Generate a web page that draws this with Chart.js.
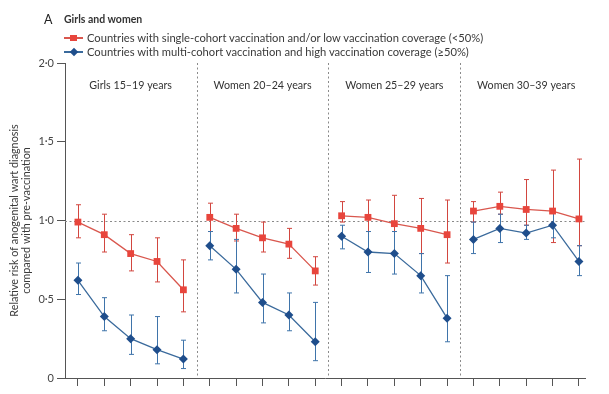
<!DOCTYPE html>
<html>
<head>
<meta charset="utf-8">
<script src="https://cdn.jsdelivr.net/npm/chart.js@4.4.1/dist/chart.umd.min.js"></script>
<style>
  body { margin: 0; background: #fff; font-family: Lato, sans-serif; color: #3a3a3a; }
  #wrap { position: relative; width: 609px; height: 394px; }
  #chart { position: absolute; left: 0; top: 0; }
  .head { position: absolute; white-space: nowrap; }
  .sym { position: absolute; width: 19px; height: 10px; }
  .sym .ln { position: absolute; left: 0; top: 4px; width: 19px; height: 1.5px; }
  .sym .mk { position: absolute; left: 6px; top: 1.5px; width: 6.5px; height: 6.5px; }
</style>
</head>
<body>
<div id="wrap">
  <canvas id="chart" width="609" height="394"></canvas>
  <div class="head" style="left:44px; top:12px; font-size:12.5px; color:#222;">A</div>
  <div class="head" style="left:64px; top:13px; font-size:10.5px; font-weight:bold; color:#333;">Girls and women</div>
  <div class="sym" style="left:64px; top:33px;"><div class="ln" style="background:#d9574e"></div><div class="mk" style="background:#e8453c"></div></div>
  <div class="head" id="leg1" style="left:87px; top:31px; font-size:11.2px;"></div>
  <div class="sym" style="left:64px; top:47px;"><div class="ln" style="background:#3a6a9c"></div><div class="mk" style="background:#1f4e8c; transform:rotate(45deg); width:6px; height:6px; left:6.5px; top:2px;"></div></div>
  <div class="head" id="leg2" style="left:87px; top:45px; font-size:11.2px;"></div>
</div>
<script>
// Panels (age groups) and series names
const panels = ['Girls 15–19 years', 'Women 20–24 years', 'Women 25–29 years', 'Women 30–39 years'];
const seriesNames = [
    'Countries with single-cohort vaccination and/or low vaccination coverage (<50%)',
    'Countries with multi-cohort vaccination and high vaccination coverage (≥50%)'
];
const yTicks = [0, 0.5, 1, 1.5, 2];

// Single-cohort / low coverage (red)
const lowCoverage = [0.99, 0.91, 0.79, 0.74, 0.56, 1.02, 0.95, 0.89, 0.85, 0.68, 1.03, 1.02, 0.98, 0.95, 0.91, 1.06, 1.09, 1.07, 1.06, 1.01];
const lowLower = [0.89, 0.80, 0.68, 0.61, 0.42, 0.93, 0.87, 0.80, 0.76, 0.59, 0.99, 0.93, 0.93, 0.79, 0.73, 0.99, 1.04, 0.97, 0.86, 0.84];
const lowUpper = [1.10, 1.04, 0.91, 0.89, 0.75, 1.11, 1.04, 0.99, 0.95, 0.77, 1.12, 1.13, 1.16, 1.14, 1.13, 1.12, 1.18, 1.26, 1.32, 1.39];

// Multi-cohort / high coverage (blue)
const highCoverage = [0.62, 0.39, 0.25, 0.18, 0.12, 0.84, 0.69, 0.48, 0.40, 0.23, 0.90, 0.80, 0.79, 0.65, 0.38, 0.88, 0.95, 0.92, 0.97, 0.74];
const highLower = [0.53, 0.30, 0.15, 0.09, 0.06, 0.75, 0.54, 0.35, 0.30, 0.11, 0.82, 0.67, 0.66, 0.54, 0.23, 0.79, 0.86, 0.88, 0.89, 0.65];
const highUpper = [0.73, 0.51, 0.40, 0.39, 0.24, 0.93, 0.88, 0.66, 0.54, 0.48, 0.97, 0.93, 0.93, 0.79, 0.65, 0.99, 1.04, 0.97, 1.05, 0.84];

const perPanel = 5;

document.getElementById('leg1').textContent = seriesNames[0];
document.getElementById('leg2').textContent = seriesNames[1];

// builds {x, y} points with a null between panels so lines break
function toPoints(values) {
    let pts = [];
    values.forEach((v, i) => {
        if (i > 0 && i % perPanel === 0) pts.push({ x: i - 0.5, y: null });
        pts.push({ x: i, y: v });
    });
    return pts;
}

const errorBars = [
    { lower: lowLower, upper: lowUpper, color: '#d2463f' },
    { lower: highLower, upper: highUpper, color: '#3f74aa' },
];

// Draws reference line, panel separators, panel labels and error bars
const extras = {
    id: 'extras',
    beforeDatasetsDraw(chart) {
        const { ctx, chartArea, scales: { x, y } } = chart;
        ctx.save();
        ctx.strokeStyle = '#8a8a8a';
        ctx.lineWidth = 1;
        ctx.setLineDash([2, 2.5]);
        ctx.beginPath();
        const y1 = Math.round(y.getPixelForValue(1)) + 0.5;
        ctx.moveTo(chartArea.left, y1);
        ctx.lineTo(chartArea.right, y1);
        for (let p = 1; p < panels.length; p++) {
            const sx = Math.round(x.getPixelForValue(p * perPanel - 0.5)) + 0.5;
            ctx.moveTo(sx, chartArea.top);
            ctx.lineTo(sx, chartArea.bottom);
        }
        ctx.stroke();
        ctx.setLineDash([]);

        ctx.fillStyle = '#333';
        ctx.font = '10.7px Lato';
        ctx.textAlign = 'center';
        ctx.textBaseline = 'middle';
        panels.forEach((name, p) => {
            ctx.fillText(name, x.getPixelForValue(p * perPanel + 2), 86);
        });

        errorBars.forEach(eb => {
            ctx.strokeStyle = eb.color;
            ctx.lineWidth = 1;
            ctx.beginPath();
            eb.lower.forEach((lo, i) => {
                const px = Math.round(x.getPixelForValue(i)) + 0.5;
                const top = y.getPixelForValue(eb.upper[i]);
                const bot = y.getPixelForValue(lo);
                ctx.moveTo(px, top);
                ctx.lineTo(px, bot);
                ctx.moveTo(px - 2.5, top);
                ctx.lineTo(px + 2.5, top);
                ctx.moveTo(px - 2.5, bot);
                ctx.lineTo(px + 2.5, bot);
            });
            ctx.stroke();
        });
        ctx.restore();
    }
};

Chart.defaults.font.family = 'Lato';
Chart.defaults.color = '#3a3a3a';

new Chart(document.getElementById('chart'), {
    type: 'line',
    data: {
        datasets: [
            {
                label: seriesNames[1],
                data: toPoints(highCoverage),
                borderColor: '#3a6a9c',
                backgroundColor: '#1f4e8c',
                borderWidth: 1.3,
                pointStyle: 'rectRot',
                pointRadius: 4.5,
                pointBorderWidth: 0,
                spanGaps: false,
            },
            {
                label: seriesNames[0],
                data: toPoints(lowCoverage),
                borderColor: '#d9574e',
                backgroundColor: '#e8453c',
                borderWidth: 1.3,
                pointStyle: 'rect',
                pointRadius: 4.8,
                pointBorderWidth: 0,
                spanGaps: false,
            },
        ]
    },
    options: {
        responsive: false,
        animation: false,
        layout: { padding: { top: 63, right: 24, bottom: 0, left: 0 } },
        plugins: { legend: { display: false }, tooltip: { enabled: false } },
        scales: {
            x: {
                type: 'linear',
                min: -0.49,
                max: 19.23,
                afterBuildTicks: (scale) => {
                    scale.ticks = lowCoverage.map((_, i) => ({ value: i }));
                },
                afterFit: (scale) => { scale.height = 16; },
                ticks: { display: false },
                grid: { drawOnChartArea: false, drawTicks: true, tickLength: 8, color: '#555' },
                border: { display: true, color: '#555', width: 1 },
            },
            y: {
                min: 0,
                max: 2,
                afterBuildTicks: (scale) => {
                    scale.ticks = yTicks.map(v => ({ value: v }));
                },
                afterFit: (scale) => { scale.width = 65; },
                ticks: {
                    padding: 3,
                    font: { size: 11 },
                    color: '#444',
                    callback: (v) => v === 0 ? '0' : v.toFixed(1).replace('.', '·'),
                },
                grid: { drawOnChartArea: false, drawTicks: true, tickLength: 8, color: '#555' },
                border: { display: true, color: '#555', width: 1 },
                title: {
                    display: true,
                    text: ['Relative risk of anogenital wart diagnosis', 'compared with pre-vaccination'],
                    font: { size: 10.8, lineHeight: 1.1 },
                    color: '#3a3a3a',
                    padding: { top: 9, bottom: 0 },
                },
            },
        },
    },
    plugins: [extras],
});
</script>
</body>
</html>
